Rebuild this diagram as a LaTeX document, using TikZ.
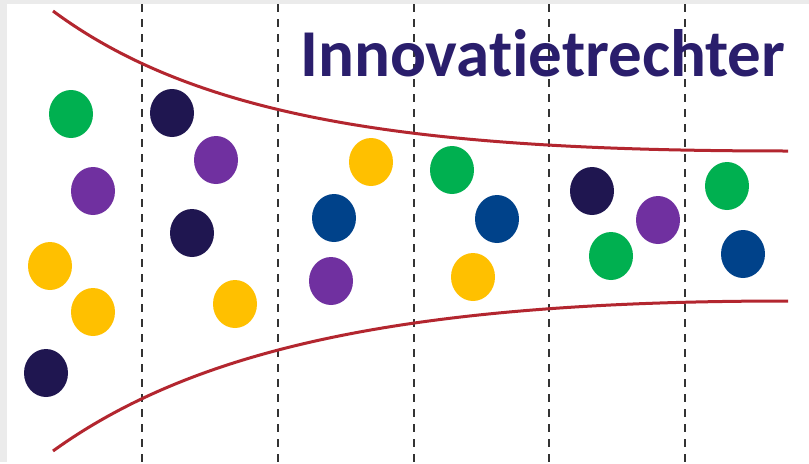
\documentclass[tikz,border=0pt]{standalone}
\usepackage{fontspec}
\usetikzlibrary{shapes.geometric}
\newfontfamily\funnelfont[Ligatures={NoCommon}]{Carlito}
\definecolor{funnelred}{HTML}{B3262F}
\definecolor{dotgreen}{HTML}{00B050}
\definecolor{dotpurple}{HTML}{7030A0}
\definecolor{dotyellow}{HTML}{FFC000}
\definecolor{dotnavy}{HTML}{1F1650}
\definecolor{dotblue}{HTML}{00428A}
\definecolor{titleblue}{HTML}{2A1E6C}
\begin{document}
\begin{tikzpicture}[x=1pt,y=-1pt,
    dot/.style={ellipse,minimum width=44pt,minimum height=48pt,inner sep=0pt,fill=#1},
    divider/.style={line width=2.4pt,black!80,dash pattern=on 8pt off 7pt},
    funnel/.style={line width=3pt,funnelred}]
        \fill[black!8] (0,0) rectangle (809,462);
        \fill[white] (7,4) rectangle (809,462);

        \foreach \x in {142,278,414,549,685}
            \draw[divider] (\x,4) -- (\x,462);

        \draw[funnel] (53,11) .. controls (200,120) and (420,151) .. (788,151);
        \draw[funnel] (53,451) .. controls (200,345) and (420,301) .. (788,301);

        \node[anchor=base west,text=titleblue,inner sep=0pt,font=\funnelfont\bfseries\fontsize{67}{67}\selectfont] (title) at (300,76) {Innovatietrechter};

        \node[dot=dotgreen] (g1) at (71,114) {};
        \node[dot=dotpurple] (p1) at (93,191) {};
        \node[dot=dotyellow] (y1) at (50,266) {};
        \node[dot=dotyellow] (y2) at (93,312) {};
        \node[dot=dotnavy] (n1) at (46,373) {};

        \node[dot=dotnavy] (n2) at (172,113) {};
        \node[dot=dotpurple] (p2) at (216,160) {};
        \node[dot=dotnavy] (n3) at (192,233) {};
        \node[dot=dotyellow] (y3) at (235,304) {};

        \node[dot=dotyellow] (y4) at (371,162) {};
        \node[dot=dotblue] (b1) at (334,218) {};
        \node[dot=dotpurple] (p3) at (331,281) {};

        \node[dot=dotgreen] (g2) at (452,170) {};
        \node[dot=dotblue] (b2) at (497,219) {};
        \node[dot=dotyellow] (y5) at (473,277) {};

        \node[dot=dotnavy] (n4) at (592,191) {};
        \node[dot=dotpurple] (p4) at (658,220) {};
        \node[dot=dotgreen] (g3) at (611,256) {};

        \node[dot=dotgreen] (g4) at (727,186) {};
        \node[dot=dotblue] (b3) at (743,254) {};
\end{tikzpicture}
\end{document}
